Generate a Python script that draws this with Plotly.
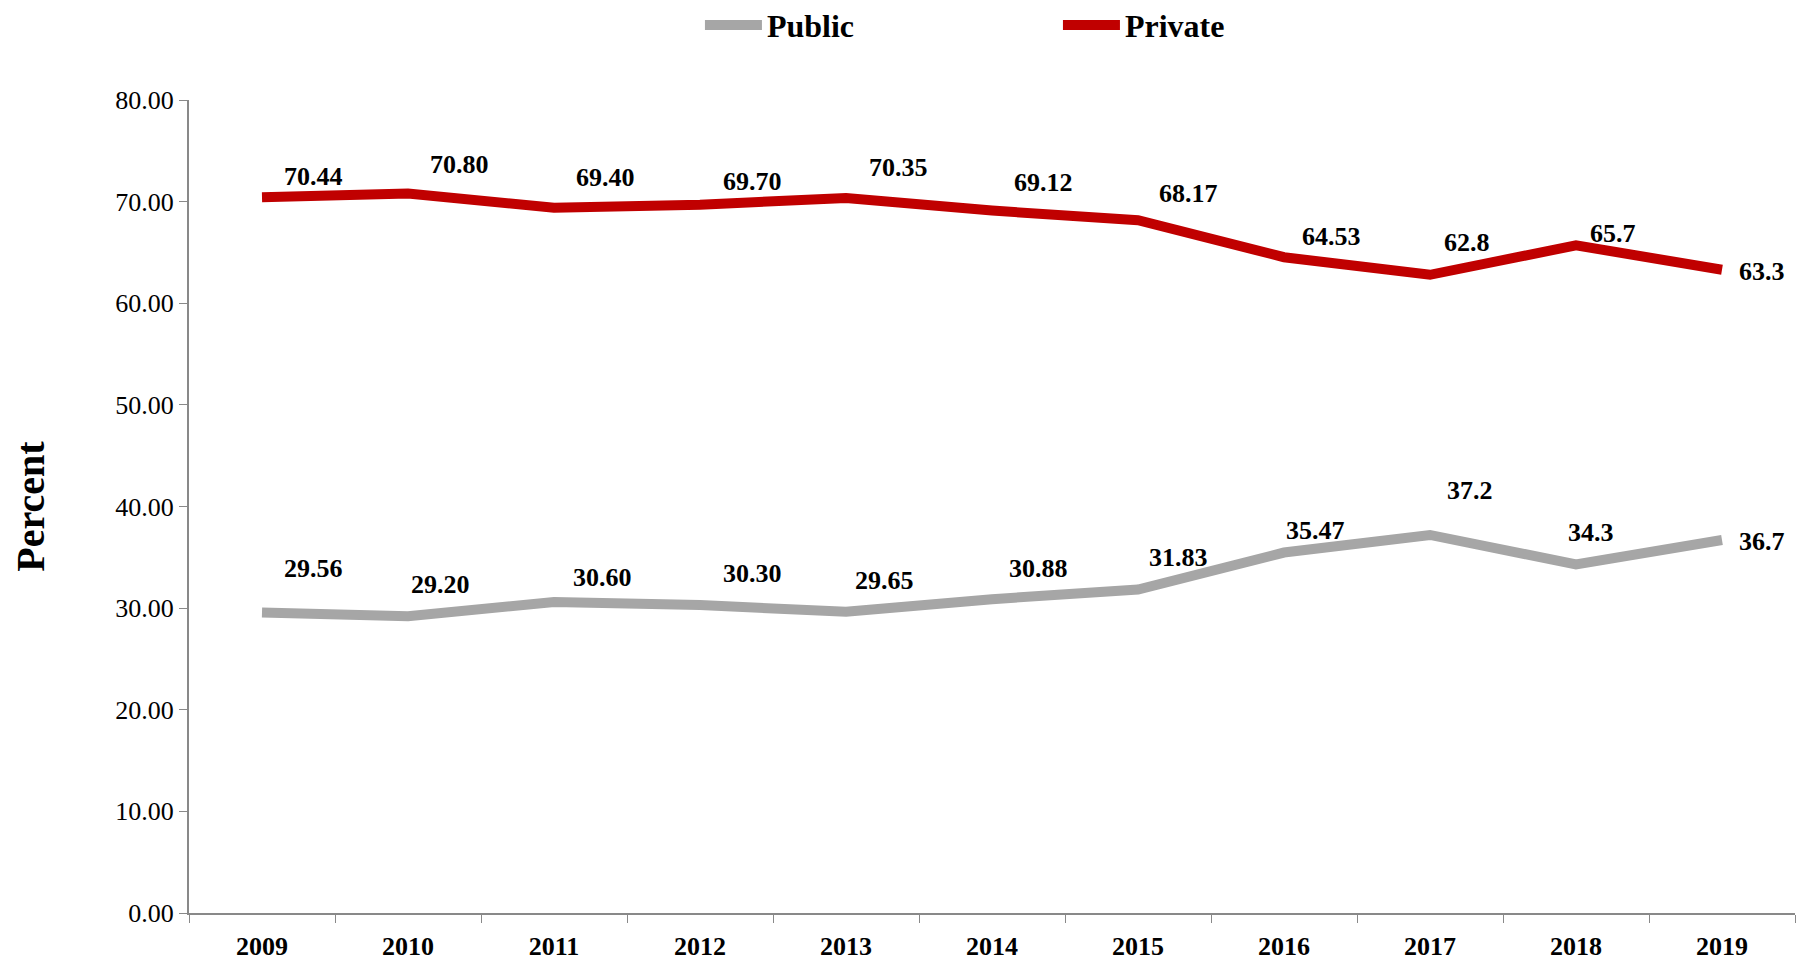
import plotly.graph_objects as go

years = ["2009", "2010", "2011", "2012", "2013", "2014", "2015", "2016", "2017", "2018", "2019"]
public = [29.56, 29.20, 30.60, 30.30, 29.65, 30.88, 31.83, 35.47, 37.2, 34.3, 36.7]
private = [70.44, 70.80, 69.40, 69.70, 70.35, 69.12, 68.17, 64.53, 62.8, 65.7, 63.3]
public_text = ["29.56", "29.20", "30.60", "30.30", "29.65", "30.88", "31.83", "35.47", "37.2", "34.3", "36.7"]
private_text = ["70.44", "70.80", "69.40", "69.70", "70.35", "69.12", "68.17", "64.53", "62.8", "65.7", "63.3"]

# label offsets (px) as placed in the original chart
private_dx = [51, 51, 51, 52, 52, 51, 50, 47, 37, 37, 40]
private_dy = [21, 29, 30, 23, 31, 28, 27, 21, 32, 12, -2]
public_dx = [51, 32, 48, 52, 38, 46, 40, 31, 40, 15, 40]
public_dy = [44, 32, 25, 32, 31, 31, 32, 22, 44, 32, -1]

FONT = "Liberation Serif, Times New Roman, serif"
GREY = "#A6A6A6"
RED = "#C00000"

fig = go.Figure()
fig.add_trace(go.Scatter(x=years, y=public, name="Public", mode="lines",
                         line=dict(color=GREY, width=10)))
fig.add_trace(go.Scatter(x=years, y=private, name="Private", mode="lines",
                         line=dict(color=RED, width=10)))

label_font = dict(family=FONT, size=26, color="black", weight="bold")
for vals, texts, dxs, dys in [(private, private_text, private_dx, private_dy),
                              (public, public_text, public_dx, public_dy)]:
    for i, (v, t, dx, dy) in enumerate(zip(vals, texts, dxs, dys)):
        fig.add_annotation(x=i, y=v, xref="x", yref="y", text=t, showarrow=False,
                           xshift=dx, yshift=dy, font=label_font)

# page body adds an 8px offset, so the figure is 8px smaller than the window
fig.update_layout(
    width=1801, height=954,
    margin=dict(l=181, r=14, t=92, b=49, autoexpand=False),
    plot_bgcolor="white", paper_bgcolor="white",
    font=dict(family=FONT, color="black"),
    showlegend=True,
    legend=dict(orientation="h", xref="container", yref="container",
                x=0.3842, y=0.982, xanchor="left", yanchor="middle",
                font=dict(family=FONT, size=32, weight="bold"),
                entrywidth=286, itemwidth=57, bgcolor="rgba(0,0,0,0)"),
)
fig.update_xaxes(type="category", tickson="boundaries", ticks="outside", ticklen=8,
                 tickcolor="#898989", showline=True, linecolor="#898989", linewidth=2,
                 showgrid=False, tickfont=dict(family=FONT, size=26, weight="bold"),
                 ticklabelstandoff=9, range=[-0.5, 10.5], automargin=False)
fig.update_yaxes(range=[0, 80], dtick=10, tickformat=".2f", ticks="outside", ticklen=8,
                 tickcolor="#898989", showline=True, linecolor="#898989", linewidth=2,
                 showgrid=False, zeroline=False, tickfont=dict(family=FONT, size=26),
                 automargin=False,
                 title=dict(text="Percent", font=dict(family=FONT, size=40, weight="bold"),
                            standoff=65))

fig.write_html("out.html")
